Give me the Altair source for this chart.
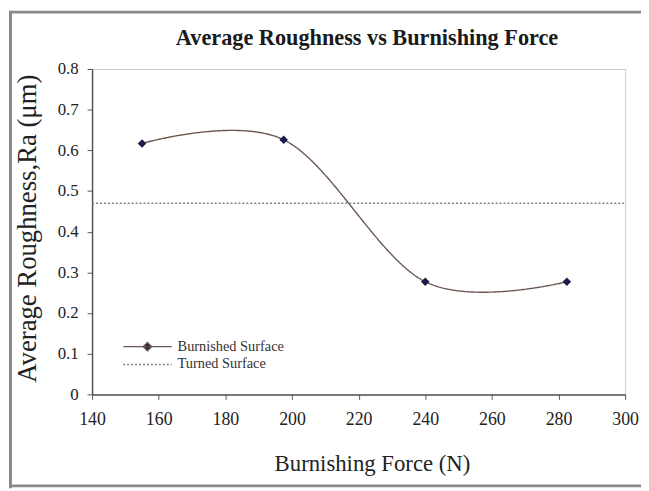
import altair as alt
import pandas as pd

# ---- data ----
burnished_force = [155, 197.5, 240, 282.5]
burnished_ra = [0.617, 0.626, 0.277, 0.277]
turned_force = [140, 300]
turned_ra = [0.47, 0.47]
series_names = ["Burnished Surface", "Turned Surface"]
x_ticks = [140, 160, 180, 200, 220, 240, 260, 280, 300]
y_ticks = [0, 0.1, 0.2, 0.3, 0.4, 0.5, 0.6, 0.7, 0.8]

df = pd.DataFrame({
    "force": burnished_force + turned_force,
    "ra": burnished_ra + turned_ra,
    "series": [series_names[0]] * len(burnished_force) + [series_names[1]] * len(turned_force),
})

W, H = 539, 329
SERIF = "Liberation Serif"
LINE_COL = "#6b5750"
DOT_COL = "#808080"
MARK_COL = "#1c1c48"
FRAME_COL = "#8a8a8a"
TXT = "#222222"

x_enc = alt.X(
    "force:Q",
    scale=alt.Scale(domain=[140, 300], nice=False, zero=False),
    axis=alt.Axis(values=x_ticks, format="d", title="Burnishing Force (N)",
                  titleX=283, titleY=77, titleAnchor="middle", titleBaseline="alphabetic",
                  labelPadding=11, labelFont=SERIF, labelFontSize=18, labelColor=TXT,
                  labelFlush=False, labelOverlap=False, labelBound=False,
                  titleFont=SERIF, titleFontSize=23, titleColor=TXT, titleFontWeight="normal"),
)
y_enc = alt.Y(
    "ra:Q",
    scale=alt.Scale(domain=[0, 0.8], nice=False),
    axis=alt.Axis(values=y_ticks, format=".1~f", title="Average Roughness,Ra (μm)",
                  titleX=-51, titleY=161, titleAnchor="middle", titleBaseline="bottom",
                  labelPadding=9, labelFont=SERIF, labelFontSize=17, labelColor=TXT,
                  titleFont=SERIF, titleFontSize=27, titleColor=TXT, titleFontWeight="normal"),
)

color_scale = alt.Scale(domain=series_names, range=[LINE_COL, DOT_COL])
dash_scale = alt.Scale(domain=series_names, range=[[1, 0], [2, 2]])
shape_scale = alt.Scale(
    domain=series_names,
    range=["M-1,0L1,0M0,-0.17L0.17,0L0,0.17L-0.17,0Z", "M-1,0L1,0"],
)

leg = alt.Legend(
    title=None, orient="none", legendX=30.5, legendY=272, direction="vertical",
    symbolSize=2401, symbolStrokeWidth=1.4, padding=0, rowPadding=0, clipHeight=17.5,
    labelFont=SERIF, labelFontSize=14.5, labelColor="#333333", labelOffset=5,
)

legend_layer = alt.Chart(df).transform_filter("false").mark_point(
    filled=False, fill=MARK_COL, fillOpacity=1, opacity=1, strokeWidth=1.4
).encode(
    x=x_enc, y=y_enc,
    color=alt.Color("series:N", scale=color_scale, legend=leg),
    shape=alt.Shape("series:N", scale=shape_scale, legend=leg),
    strokeDash=alt.StrokeDash("series:N", scale=dash_scale, legend=leg),
)

lines = alt.Chart(df).mark_line(interpolate="cardinal", strokeWidth=1.4).encode(
    x=x_enc, y=y_enc,
    color=alt.Color("series:N", scale=color_scale),
    strokeDash=alt.StrokeDash("series:N", scale=dash_scale),
)

points = alt.Chart(df).transform_filter(
    alt.datum.series == series_names[0]
).mark_point(shape="diamond", filled=True, size=75, color=MARK_COL, opacity=1).encode(
    x=x_enc, y=y_enc,
)

one = pd.DataFrame({"k": [0]})
frame_top = alt.Chart(one).mark_rule(color=FRAME_COL, strokeWidth=3).encode(
    x=alt.value(-84), x2=alt.value(560), y=alt.value(-57.5))
frame_left = alt.Chart(one).mark_rule(color=FRAME_COL, strokeWidth=3).encode(
    x=alt.value(-82.5), y=alt.value(-59), y2=alt.value(424))
frame_bottom = alt.Chart(one).mark_rule(color=FRAME_COL, strokeWidth=3).encode(
    x=alt.value(-84), x2=alt.value(560), y=alt.value(421.5))

chart = alt.layer(
    legend_layer, frame_top, frame_left, frame_bottom, lines, points
).properties(
    width=W, height=H,
    background="white",
    autosize=alt.AutoSizeParams(type="none"),
    padding={"left": 85, "top": 59, "right": 16, "bottom": 94},
    title=alt.TitleParams(
        "Average Roughness vs Burnishing Force", font=SERIF, fontSize=22.5,
        fontWeight="bold", color="#1a1a1a", anchor="middle", dx=8.5, offset=0, dy=41,
    ),
).configure_view(
    stroke="#c8c8c8", strokeWidth=1
).configure_axis(
    grid=False, domainColor="#555555", tickColor="#555555", domainWidth=1.5, tickSize=5,
)

chart.save("out.html", embed_options={"renderer": "svg", "actions": False})
